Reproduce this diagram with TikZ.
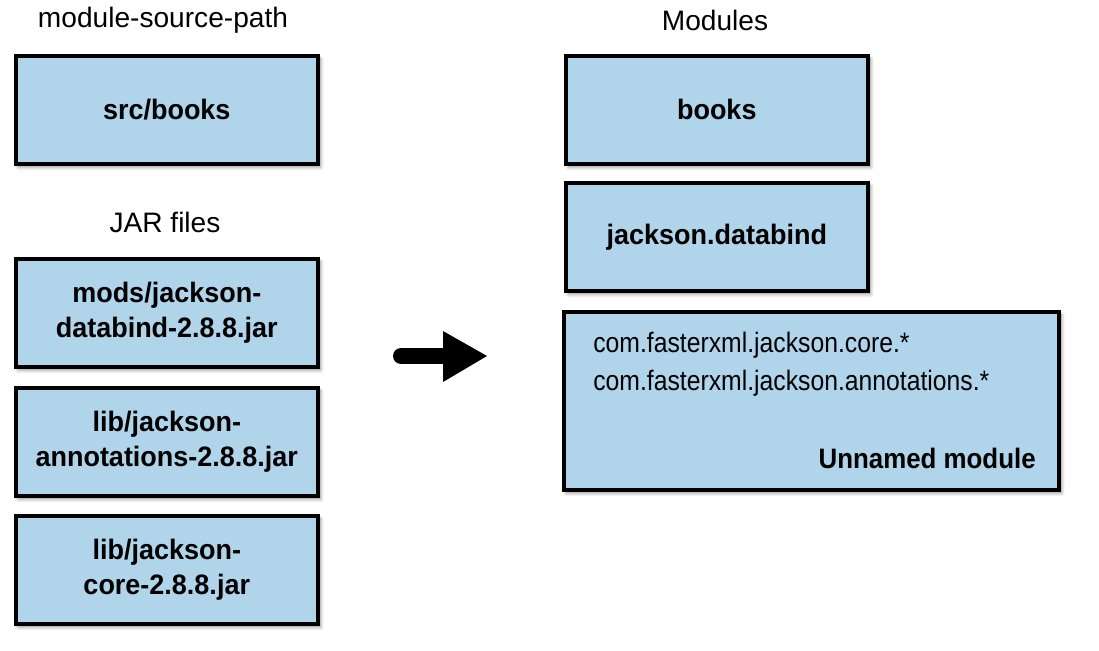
\documentclass[tikz,border=0pt]{standalone}
\usepackage{fontspec}
\setmainfont{Liberation Sans}[BoldFeatures={FakeStretch=0.96}]
\newfontfamily\pkfont{Liberation Sans}[FakeStretch=0.88]
\newfontfamily\umfont{Liberation Sans}[BoldFeatures={FakeStretch=0.92}]
\usetikzlibrary{shadows,shadows.blur}
\definecolor{boxblue}{RGB}{176,212,234}
\tikzset{
  mbox/.style={draw=black, line width=2pt, fill=boxblue, minimum width=302*0.02cm, minimum height=108*0.02cm, inner sep=0pt, align=center, font=\fontsize{16}{19.8}\selectfont\bfseries, anchor=north west, blur shadow={shadow xshift=1.5pt, shadow yshift=-1.8pt, shadow blur steps=6, shadow opacity=45}},
  lbl/.style={font=\fontsize{16}{19}\selectfont, inner sep=0pt}
}
\begin{document}
\begin{tikzpicture}[x=0.02cm,y=-0.02cm]
\useasboundingbox (0,0) rectangle (1099,650);
\node[lbl] (lsrc) at (163,20) {module-source-path};
\node[lbl] (ljar) at (165,222) {JAR files};
\node[lbl] (lmod) at (715,20) {Modules};
\node[mbox] (src) at (14,54) {src/books};
\node[mbox] (j1) at (14,257) {mods/jackson-\\databind-2.8.8.jar};
\node[mbox] (j2) at (14,386) {lib/jackson-\\annotations-2.8.8.jar};
\node[mbox] (j3) at (14,514) {lib/jackson-\\core-2.8.8.jar};
\node[mbox] (books) at (564,54) {books};
\node[mbox] (jd) at (564,181) {jackson.databind};
\node[mbox, minimum width=495*0.02cm, minimum height=178*0.02cm] (un) at (562,310) {};
\node[anchor=west, inner sep=0pt, align=left, font=\pkfont\fontsize{16}{21.6}\selectfont] (pk) at (593,364) {com.fasterxml.jackson.core.*\\com.fasterxml.jackson.annotations.*};
\node[anchor=east, inner sep=0pt, font=\umfont\fontsize{16}{19}\selectfont\bfseries] (um) at (1036,458) {Unnamed module};
\coordinate (at) at (401,356);
\coordinate (ah) at (444,356);
\draw[line width=16*0.02cm, line cap=round] (at) -- (ah);
\fill (443,331) -- (487,356) -- (443,382) -- cycle;
\end{tikzpicture}
\end{document}
